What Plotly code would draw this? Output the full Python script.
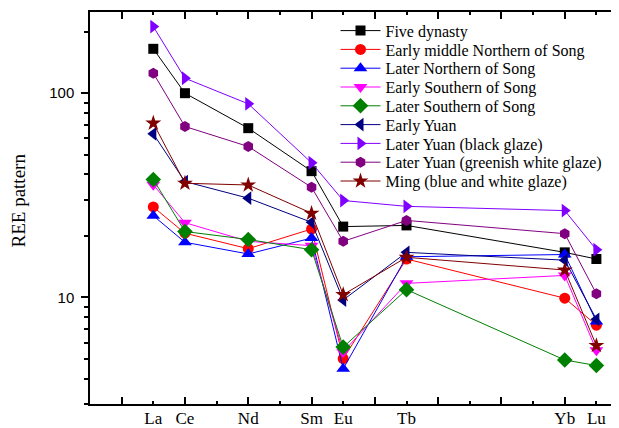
import plotly.graph_objects as go

elements = ["La", "Ce", "Nd", "Sm", "Eu", "Tb", "Yb", "Lu"]
atomic_numbers = [57, 58, 60, 62, 63, 65, 70, 71]

five_dynasty = [165, 100, 67.4, 41.5, 22.2, 22.5, 16.6, 15.4]
early_middle_northern_song = [27.7, 20.6, 17.3, 21.6, 5.0, 15.4, 9.9, 7.3]
later_northern_song = [25.1, 18.6, 16.3, 19.5, 4.46, 15.8, 16.2, 7.6]
early_southern_song = [35.6, 23.2, 18.8, 17.9, 5.4, 11.7, 12.8, 5.5]
later_southern_song = [37.8, 21.0, 19.2, 17.1, 5.7, 10.9, 4.93, 4.63]
early_yuan = [63.2, 36.9, 30.6, 23.3, 9.7, 16.6, 15.2, 7.8]
later_yuan_black = [212, 118.4, 88.7, 45.6, 29.8, 27.9, 26.6, 17.1]
later_yuan_greenish = [125.4, 68.7, 54.8, 34.6, 18.8, 23.8, 20.5, 10.4]
ming_blue_white = [71.3, 36.2, 35.5, 25.8, 10.3, 15.7, 13.6, 5.8]

series = [
    ("Five dynasty", five_dynasty, "#000000", "square", 10),
    ("Early middle Northern of Song", early_middle_northern_song, "#FF0000", "circle", 11),
    ("Later Northern of Song", later_northern_song, "#0000FF", "triangle-up", 12),
    ("Early Southern of Song", early_southern_song, "#FF00FF", "triangle-down", 12),
    ("Later Southern of Song", later_southern_song, "#008000", "diamond", 12),
    ("Early Yuan", early_yuan, "#000080", "triangle-left", 12),
    ("Later Yuan (black glaze)", later_yuan_black, "#8000FF", "triangle-right", 12),
    ("Later Yuan (greenish white glaze)", later_yuan_greenish, "#800080", "hexagon", 11),
    ("Ming (blue and white glaze)", ming_blue_white, "#800000", "star", 12),
]

y_major = [10, 100]
y_minor = [3, 4, 5, 6, 7, 8, 9, 20, 30, 40, 50, 60, 70, 80, 90, 200]
x_major = [56, 58, 60, 62, 64, 66, 68, 70]
x_minor = [57, 59, 61, 63, 65, 67, 69, 71]
y_title = "REE pattern"

SERIF = "Times New Roman, Liberation Serif, serif"
SANS = "Arial, Liberation Sans, sans-serif"

W, H = 611, 420
ML, MR, MT, MB = 82, 0, 4, 24
plot_w = W - ML - MR
plot_h = H - MT - MB

fig = go.Figure()
legend_layouts = {}
for i, (name, vals, color, sym, size) in enumerate(series):
    key = "legend" if i == 0 else f"legend{i + 1}"
    fig.add_trace(go.Scatter(
        x=atomic_numbers, y=vals, name=name, mode="lines+markers",
        line=dict(color=color, width=1),
        marker=dict(symbol=sym, size=size, color=color, line=dict(width=0)),
        legend=key,
    ))
    row_y = 22.7 + 18.8 * i  # figure px of row center
    legend_layouts[key] = dict(
        x=(243.5 + 2) / plot_w, xanchor="left", y=1 - (row_y - MT) / plot_h, yanchor="middle",
        bgcolor="rgba(0,0,0,0)", borderwidth=0, itemwidth=40,
        font=dict(family=SERIF, size=16, color="black"),
    )

fig.add_trace(go.Scatter(x=atomic_numbers, y=five_dynasty, xaxis="x2", mode="none",
                         showlegend=False, hoverinfo="skip"))

xrange = [55, 55 + plot_w / 31.65]
fig.update_layout(
    width=W, height=H,
    margin=dict(l=ML, r=MR, t=MT, b=MB),
    plot_bgcolor="white", paper_bgcolor="white",
    showlegend=True,
    xaxis=dict(range=xrange, showgrid=False, zeroline=False, automargin=False,
               showline=True, linecolor="black", linewidth=1.5, mirror="allticks",
               tickmode="array", tickvals=x_major, ticks="inside", ticklen=7,
               tickcolor="black", tickwidth=1.5, showticklabels=False,
               minor=dict(tickmode="array", tickvals=x_minor, ticks="inside",
                          ticklen=3, tickcolor="black", tickwidth=1.5)),
    xaxis2=dict(range=xrange, overlaying="x", side="bottom", anchor="y", automargin=False,
                showgrid=False, zeroline=False, showline=False, ticks="",
                ticklabelstandoff=2,
                tickmode="array", tickvals=atomic_numbers, ticktext=elements,
                tickfont=dict(family=SERIF, size=17, color="black")),
    yaxis=dict(type="log", range=[0.4771, 2.3979], showgrid=False, zeroline=False,
               automargin=False,
               showline=True, linecolor="black", linewidth=1.5, mirror=False,
               tickmode="array", tickvals=y_major, ticktext=[str(v) for v in y_major],
               ticks="outside", ticklen=7, tickcolor="black", tickwidth=1.5,
               ticklabelstandoff=4,
               tickfont=dict(family=SANS, size=15, color="black"),
               minor=dict(tickmode="array", tickvals=y_minor, ticks="outside",
                          ticklen=4, tickcolor="black", tickwidth=1.5)),
    annotations=[dict(text=y_title, textangle=-90, showarrow=False,
                      xref="paper", yref="paper", x=(10 - ML) / plot_w,
                      y=1 - (192.5 - MT) / plot_h, xanchor="center", yanchor="middle",
                      font=dict(family=SERIF, size=19, color="black"))],
    **legend_layouts,
)

fig.write_html("out.html")
